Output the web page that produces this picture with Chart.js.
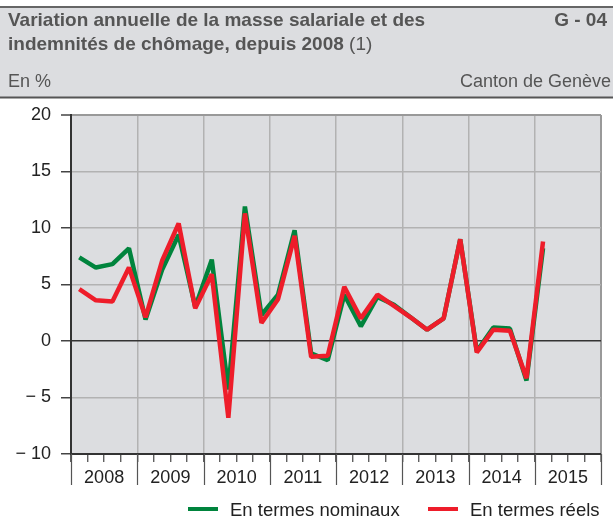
<!DOCTYPE html>
<html>
<head>
<meta charset="utf-8">
<title>G - 04 Masse salariale</title>
<script src="https://cdn.jsdelivr.net/npm/chart.js@4.4.1/dist/chart.umd.min.js"></script>
<style>
  html, body { margin: 0; padding: 0; background: #fff; }
  #container { position: relative; width: 613px; height: 518px; }
</style>
</head>
<body>
<div id="container">
  <canvas id="canvas"></canvas>
</div>
<script>

// Years shown under the x axis (4 quarters each)
var years = ['2008', '2009', '2010', '2011', '2012', '2013', '2014', '2015'];

// Quarterly values, 2008 T1 -> 2015 T1 (in %)
var nominaux = [7.4, 6.5, 6.8, 8.2, 1.9, 6.3, 9.4, 3.0, 7.2, -4.3, 11.9, 2.3, 4.1, 9.8, -1.1, -1.7,
                4.1, 1.3, 3.9, 3.2, 2.1, 1.0, 2.0, 9.0, -0.9, 1.2, 1.1, -3.5, 8.2];
var reels    = [4.6, 3.6, 3.5, 6.5, 2.1, 7.1, 10.4, 2.9, 5.9, -6.8, 11.3, 1.6, 3.7, 9.3, -1.4, -1.3,
                4.8, 2.0, 4.1, 3.1, 2.1, 1.0, 2.0, 9.0, -1.0, 1.0, 0.9, -3.3, 8.8];

var yTicks = [-10, -5, 0, 5, 10, 15, 20];

var title1 = 'Variation annuelle de la masse salariale et des';
var title2 = 'indemnités de chômage, depuis 2008';
var titleNote = ' (1)';
var code = 'G - 04';
var unit = 'En %';
var source = 'Canton de Genève';

var GREEN = '#00843d';
var RED = '#ee1d2a';
var FONT = "'Liberation Sans', Arial, sans-serif";

// quarter i sits in the middle of its quarter slot
function toPoints(arr) {
  return arr.map(function (v, i) { return { x: i + 0.5, y: v }; });
}

Chart.defaults.font.family = FONT;
Chart.defaults.color = '#222';

var headerPlugin = {
  id: 'header',
  beforeDraw: function (chart) {
    var ctx = chart.ctx;
    ctx.save();
    ctx.fillStyle = '#fff';
    ctx.fillRect(0, 0, chart.width, chart.height);
    // grey band
    ctx.fillStyle = '#dcdde0';
    ctx.fillRect(0, 7, chart.width, 91);
    ctx.fillStyle = '#666';
    ctx.fillRect(0, 6, chart.width, 2);
    ctx.fillStyle = '#555';
    ctx.fillRect(0, 96.5, chart.width, 2);

    ctx.fillStyle = '#555';
    ctx.textBaseline = 'alphabetic';
    ctx.textAlign = 'left';
    ctx.font = 'bold 19px ' + FONT;
    ctx.fillText(title1, 8, 26);
    ctx.fillText(title2, 8, 50);
    var w = ctx.measureText(title2).width;
    ctx.font = '19px ' + FONT;
    ctx.fillText(titleNote, 8 + w, 50);
    ctx.font = 'bold 19px ' + FONT;
    ctx.textAlign = 'right';
    ctx.fillText(code, 607, 26);

    ctx.font = '18px ' + FONT;
    ctx.textAlign = 'left';
    ctx.fillText(unit, 8, 87);
    ctx.textAlign = 'right';
    ctx.fillText(source, 611, 87);
    ctx.restore();
  },
  afterDraw: function (chart) {
    var ctx = chart.ctx;
    var xs = chart.scales.x;
    var bottom = chart.chartArea.bottom;
    ctx.save();
    // year separators below the axis
    ctx.strokeStyle = '#555';
    ctx.lineWidth = 1.2;
    for (var k = 0; k <= years.length; k++) {
      var px = Math.round(xs.getPixelForValue(k * 4)) + 0.5;
      ctx.beginPath();
      ctx.moveTo(px, bottom);
      ctx.lineTo(px, bottom + 31);
      ctx.stroke();
    }
    // legend
    var items = [
      { ds: chart.data.datasets[0], x: 188 },
      { ds: chart.data.datasets[1], x: 428 }
    ];
    ctx.font = '18.5px ' + FONT;
    ctx.textAlign = 'left';
    ctx.textBaseline = 'alphabetic';
    items.forEach(function (it) {
      ctx.strokeStyle = it.ds.borderColor;
      ctx.lineWidth = 4;
      ctx.beginPath();
      ctx.moveTo(it.x, 509);
      ctx.lineTo(it.x + 30, 509);
      ctx.stroke();
      ctx.fillStyle = '#222';
      ctx.fillText(it.ds.label, it.x + 42, 515.5);
    });
    ctx.restore();
  }
};

var ctx = document.getElementById('canvas').getContext('2d');
window.myLine = new Chart(ctx, {
  type: 'line',
  data: {
    datasets: [
      {
        label: 'En termes nominaux',
        data: toPoints(nominaux),
        borderColor: GREEN,
        borderWidth: 4.5,
        borderJoinStyle: 'bevel',
        pointRadius: 0,
        tension: 0,
        fill: false,
        order: 1
      },
      {
        label: 'En termes réels',
        data: toPoints(reels),
        borderColor: RED,
        borderWidth: 4.5,
        borderJoinStyle: 'bevel',
        pointRadius: 0,
        tension: 0,
        fill: false,
        order: 0
      }
    ]
  },
  options: {
    responsive: true,
    maintainAspectRatio: false,
    animation: false,
    layout: { padding: { top: 115, right: 12, bottom: 34, left: 0 } },
    plugins: {
      legend: { display: false },
      tooltip: { enabled: false }
    },
    scales: {
      x: {
        type: 'linear',
        min: 0,
        max: years.length * 4,
        afterFit: function (scale) { scale.height = 30; },
        afterBuildTicks: function (scale) {
          var t = [];
          for (var i = 0; i <= years.length * 4; i++) t.push({ value: i });
          scale.ticks = t;
        },
        ticks: {
          autoSkip: false,
          maxRotation: 0,
          padding: 5,
          font: { size: 18 },
          color: '#222',
          callback: function (v) {
            return (v % 4 === 2) ? years[(v - 2) / 4] : '';
          }
        },
        grid: {
          color: function (c) {
            var v = c.tick ? c.tick.value : 0;
            if (v === years.length * 4) return '#999';
            return (v % 4 === 0) ? '#b2b2b2' : 'rgba(0,0,0,0)';
          },
          lineWidth: function (c) {
            var v = c.tick ? c.tick.value : 0;
            return v === years.length * 4 ? 2 : 1.5;
          },
          tickColor: '#444',
          tickLength: 8,
          tickWidth: 1.2
        },
        border: { display: true, color: '#333', width: 2 }
      },
      y: {
        min: -10,
        max: 20,
        afterFit: function (scale) { scale.width = 71; },
        afterBuildTicks: function (scale) {
          scale.ticks = yTicks.map(function (v) { return { value: v }; });
        },
        ticks: {
          padding: 10,
          font: { size: 18 },
          color: '#222',
          callback: function (v) {
            return v < 0 ? '\u2212 ' + Math.abs(v) : String(v);
          }
        },
        grid: {
          color: function (c) {
            var v = c.tick ? c.tick.value : 0;
            if (v === 0 || v === -10) return '#333';
            if (v === 20) return '#999';
            return '#b2b2b2';
          },
          lineWidth: function (c) {
            var v = c.tick ? c.tick.value : 0;
            return (v === 20) ? 2 : 1.5;
          },
          tickColor: '#444',
          tickLength: 10,
          tickWidth: 1.5
        },
        border: { display: true, color: '#333', width: 2 }
      }
    }
  },
  plugins: [headerPlugin, {
    id: 'plotBg',
    beforeDraw: function (chart) {
      var a = chart.chartArea;
      chart.ctx.save();
      chart.ctx.fillStyle = '#dcdde0';
      chart.ctx.fillRect(a.left, a.top, a.right - a.left, a.bottom - a.top);
      chart.ctx.restore();
    }
  }]
});

</script>
</body>
</html>
